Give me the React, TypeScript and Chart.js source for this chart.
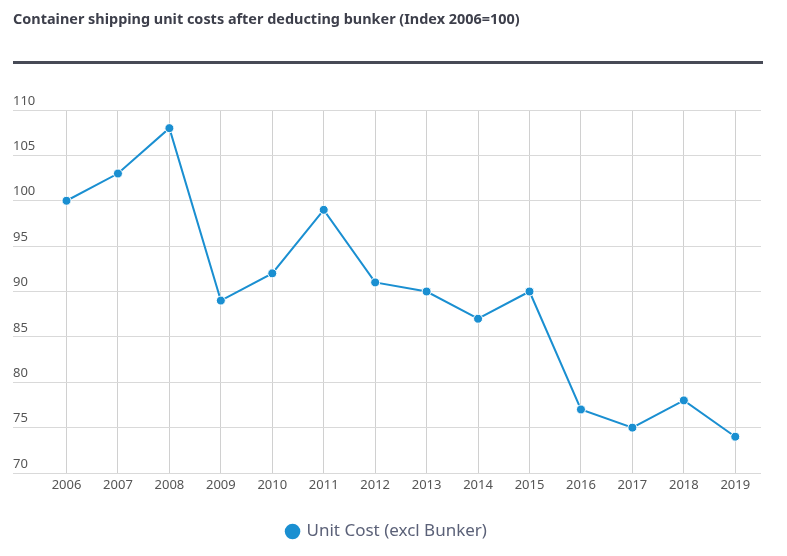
import React, { useEffect, useRef } from "react";
import { Chart, registerables } from "chart.js";

Chart.register(...registerables);

const years: number[] = [2006, 2007, 2008, 2009, 2010, 2011, 2012, 2013, 2014, 2015, 2016, 2017, 2018, 2019];
const unitCost: number[] = [100, 103, 108, 89, 92, 99, 91, 90, 87, 90, 77, 75, 78, 74];
const yTicks: number[] = [70, 75, 80, 85, 90, 95, 100, 105, 110];

const TITLE = "Container shipping unit costs after deducting bunker (Index 2006=100)";
const SERIES = "Unit Cost (excl Bunker)";
const BLUE = "#1a8fd1";
const FONT = "'Noto Sans', 'Open Sans', sans-serif";

export default function App() {
  const ref = useRef<HTMLCanvasElement | null>(null);

  useEffect(() => {
    if (!ref.current) return;
    const chart = new Chart(ref.current, {
      type: "line",
      data: {
        datasets: [
          {
            label: SERIES,
            data: years.map((y, i) => ({ x: y, y: unitCost[i] })),
            borderColor: BLUE,
            backgroundColor: BLUE,
            borderWidth: 2,
            pointRadius: 4.5,
            pointHoverRadius: 4.5,
            pointBackgroundColor: BLUE,
            pointBorderColor: "#ffffff",
            pointBorderWidth: 1,
            tension: 0,
          },
        ],
      },
      options: {
        animation: false,
        responsive: false,
        layout: { padding: { left: 13, right: 26, top: 110, bottom: 6 } },
        scales: {
          x: {
            type: "linear",
            min: 2004.96,
            max: 2019.5,
            afterBuildTicks: (scale: any) => {
              scale.ticks = years.map((v) => ({ value: v }));
            },
            afterFit: (scale: any) => {
              scale.height = 40;
            },
            grid: { color: "#d0d0d0", lineWidth: 1, drawTicks: false },
            border: { display: false },
            ticks: {
              padding: 4,
              color: "#555555",
              font: { family: FONT, size: 13 },
              maxRotation: 0,
              autoSkip: false,
              callback: (v: any) => String(v),
            },
          },
          y: {
            type: "linear",
            min: 70,
            max: 110,
            afterBuildTicks: (scale: any) => {
              scale.ticks = yTicks.map((v) => ({ value: v }));
            },
            grid: { color: "#d9d9d9", lineWidth: 1, drawTicks: false },
            border: { display: false },
            ticks: {
              mirror: true,
              padding: 0,
              labelOffset: -9,
              color: "#555555",
              font: { family: FONT, size: 13 },
              callback: (v: any) => String(v),
            },
          },
        },
        plugins: {
          legend: {
            position: "bottom",
            labels: {
              usePointStyle: true,
              pointStyle: "circle",
              boxWidth: 11,
              boxHeight: 11,
              padding: 10,
              color: "#5b6178",
              font: { family: FONT, size: 17 },
              generateLabels: (c: any) =>
                Chart.defaults.plugins.legend.labels.generateLabels(c).map((item: any) => ({
                  ...item,
                  lineWidth: 0,
                  strokeStyle: "rgba(0,0,0,0)",
                })),
            },
          },
          tooltip: { enabled: false },
        },
      },
    });
    return () => chart.destroy();
  }, []);

  return (
    <div style={{ position: "absolute", left: 0, top: 0, width: 787, height: 556, background: "#ffffff" }}>
      <canvas ref={ref} width={787} height={556} style={{ position: "absolute", left: 0, top: 0, width: 787, height: 556 }} />
      <div
        style={{
          position: "absolute",
          left: 13,
          top: 10,
          fontFamily: "'Noto Sans', sans-serif",
          fontWeight: 700,
          fontSize: 15,
          lineHeight: "16px",
          color: "#3d3f4b",
          whiteSpace: "nowrap",
          transform: "scaleX(0.962)",
          transformOrigin: "left top",
        }}
      >
        {TITLE}
      </div>
      <div style={{ position: "absolute", left: 13, top: 61, width: 750, height: 3, background: "#474a56" }} />
    </div>
  );
}
